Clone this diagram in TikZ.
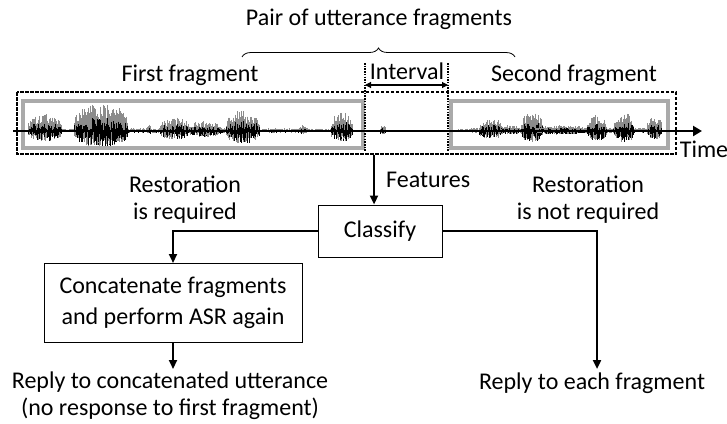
\documentclass[tikz,border=0pt]{standalone}
\usepackage{fontspec}
\setmainfont{Carlito}
\usetikzlibrary{arrows.meta,decorations.pathreplacing}
\definecolor{boxgray}{RGB}{170,170,170}
\definecolor{wavegray}{RGB}{140,140,140}
\begin{document}
\begin{tikzpicture}[x=1pt,y=-1pt,
  lbl/.style={font=\fontsize{24}{27}\selectfont, inner sep=0pt, align=center},
  procbox/.style={draw, line width=1pt, font=\fontsize{24}{31}\selectfont, align=center, inner sep=0pt},
  flow/.style={line width=2.2pt, -{Triangle[length=9pt,width=8pt]}},
  fragbox/.style={draw=boxgray, line width=4pt},
  outerbox/.style={draw, line width=1.4pt, dash pattern=on 3.5pt off 1.5pt},
  guide/.style={line width=1.6pt, dash pattern=on 1.5pt off 1.2pt},
]
\useasboundingbox (0,0) rectangle (727,423);

% waveform
\pgfmathsetseed{11}
\foreach \cc/\ww/\aa in {190/165/3, 560/105/4,
  45/17/17, 101/27/27, 149/2/7, 175/15/14, 205/16/10, 243/17/21, 303/5/6, 342/11/19, 383/3/6,
  491/12/13, 510/10/6, 532/11/19, 560/25/6, 597/10/16, 624/10/19, 655/8/14}{
  \pgfmathtruncatemacro\nn{2*\ww/0.7}
  \foreach \k in {0,...,\nn}{
    \pgfmathsetmacro\xx{\cc-\ww+\k*0.7}
    \pgfmathsetmacro\ss{abs(sin(\k/\nn*180))}
    \pgfmathsetmacro\ee{\aa*sqrt(sqrt(\ss))}
    \pgfmathsetmacro\gu{131-\ee*(0.4+0.6*rnd)}
    \pgfmathsetmacro\gd{131+\ee*(0.2+0.4*rnd)}
    \pgfmathsetmacro\bu{131-\ee*0.5*rnd}
    \pgfmathsetmacro\bd{131+\ee*0.6*rnd}
    \draw[wavegray, line width=0.5pt] (\xx,\gu) -- (\xx,\gd);
    \draw[black, line width=0.5pt] (\xx,\bu) -- (\xx,\bd);
  }
}

% boxes
\draw[fragbox] (23,101) rectangle (363,148);
\draw[fragbox] (451,101) rectangle (668,148);
\draw[outerbox] (17,92) rectangle (676,154);

% time axis
\coordinate (t0) at (13,131);
\coordinate (t1) at (702,131);
\draw[line width=2.6pt, -{Triangle[length=9pt,width=10pt]}] (t0) -- (t1);
\node[lbl] (time) at (704,149) {Time};

% interval
\coordinate (g1a) at (365,63); \coordinate (g1b) at (365,151);
\coordinate (g2a) at (448,63); \coordinate (g2b) at (448,151);
\draw[guide] (g1a) -- (g1b);
\draw[guide] (g2a) -- (g2b);
\coordinate (ivl) at (365,85); \coordinate (ivr) at (448,85);
\draw[line width=1.1pt, {Triangle[length=6pt,width=6pt]}-{Triangle[length=6pt,width=6pt]}] (ivl) -- (ivr);
\node[lbl] (interval) at (407,71) {Interval};

% labels above
\node[lbl] (first) at (190,75) {First fragment};
\node[lbl] (second) at (574,75) {Second fragment};
\node[lbl] (pair) at (379,19) {Pair of utterance fragments};
\coordinate (bl) at (242,57); \coordinate (br) at (515,57);
\draw[decorate, decoration={brace, amplitude=9pt, aspect=0.5}, line width=0.8pt] (bl) -- (br);

% flow
\node[procbox, minimum width=124pt, minimum height=52pt] (classify) at (380,231) {Classify};
\coordinate (featstart) at (374,155);
\draw[flow] (featstart) -- (featstart |- classify.north);
\node[lbl, anchor=west] (features) at (386,180) {Features};

\node[lbl] (req) at (185,200) {Restoration\\is required};
\node[lbl] (notreq) at (588,200) {Restoration\\is not required};

\node[procbox, minimum width=258pt, minimum height=79pt] (concat) at (173,303) {Concatenate fragments\\and perform ASR again};
\draw[flow] (classify.west) -| (concat.north);

\node[lbl] (reply1) at (170,396) {Reply to concatenated utterance\\(no response to first fragment)};
\coordinate (reply1top) at (173,369);
\draw[flow] (concat.south) -- (reply1top);

\node[lbl] (reply2) at (592,383) {Reply to each fragment};
\coordinate (reply2top) at (597,369);
\draw[flow] (classify.east) -| (reply2top);
\end{tikzpicture}
\end{document}
